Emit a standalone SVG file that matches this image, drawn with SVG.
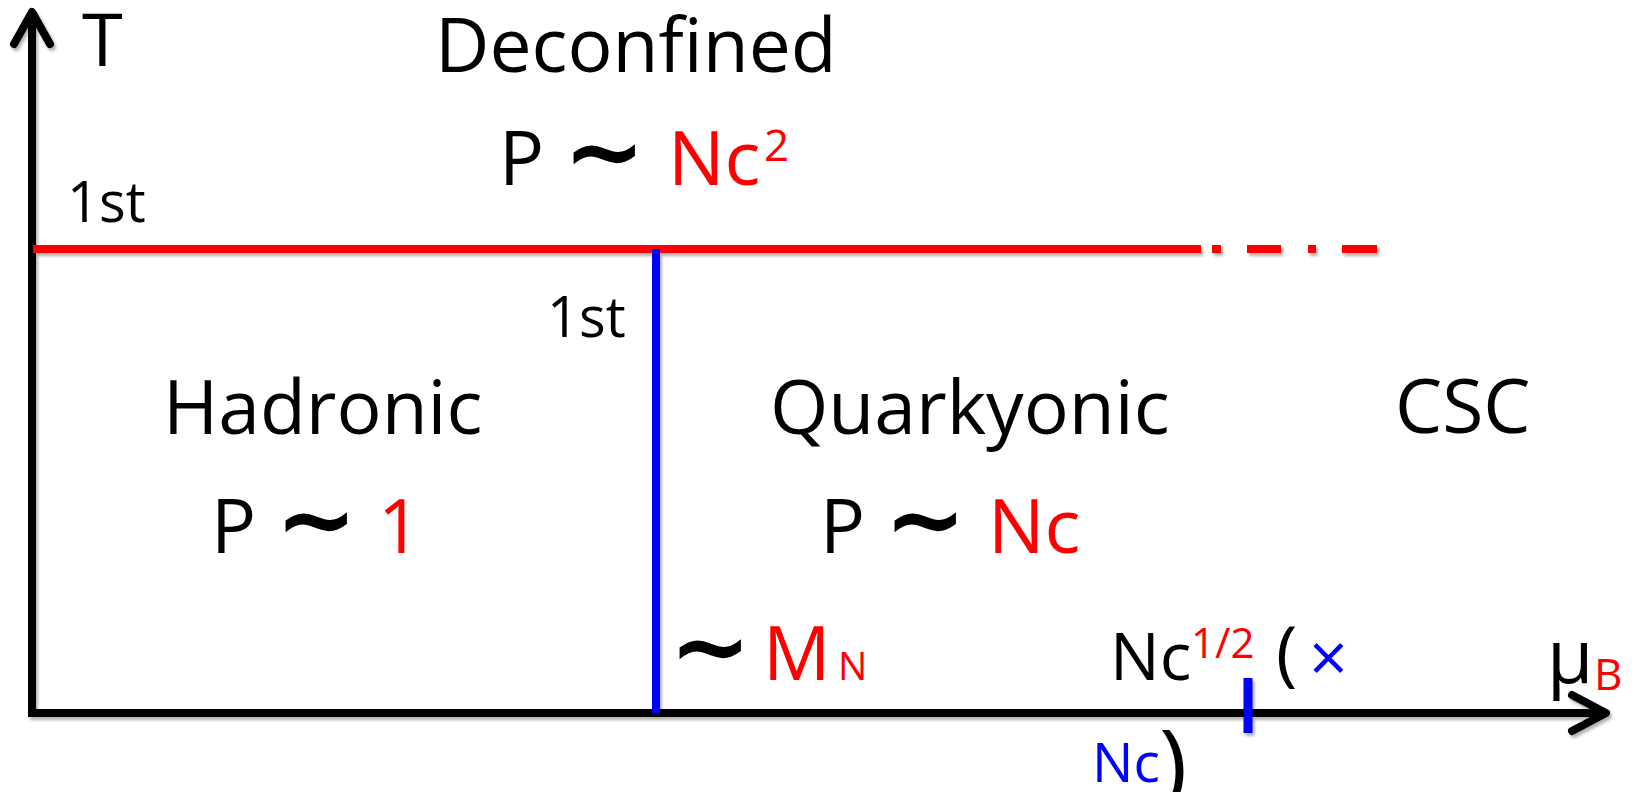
<svg xmlns="http://www.w3.org/2000/svg" width="1642" height="792" viewBox="0 0 1642 792">
<defs>
<filter id="sh" x="-5%" y="-5%" width="110%" height="110%">
<feDropShadow dx="2" dy="3" stdDeviation="1.5" flood-color="#000" flood-opacity="0.3"/>
</filter>
<style>
text{font-family:"Open Sans","Liberation Sans",sans-serif;fill:#000}
.big{font-size:75px}
.r{fill:#FF0000}
.b{fill:#0000FF}
.tl{font-family:"DejaVu Sans",sans-serif;font-size:98px;font-weight:bold}
.axis{fill:none;stroke:#000;stroke-width:8}
</style>
</defs>
<g id="connectors" filter="url(#sh)">
<path class="axis" d="M32,12 V713 H1604" stroke-linejoin="miter"/>
<path class="axis" d="M14,44 L32,12 L50,44" stroke-linecap="round" stroke-linejoin="round"/>
<path class="axis" d="M1572,695 L1606,713 L1572,731" stroke-linecap="round" stroke-linejoin="round"/>
<path d="M33,249 H1201 M1212,249 H1221 M1247,249 H1281 M1308,249 H1316 M1342,249 H1377" stroke="#FF0000" stroke-width="8" fill="none"/>
<path d="M656,249 V713" stroke="#0000FF" stroke-width="8" fill="none"/>
<path d="M1248,678 V733" stroke="#0000FF" stroke-width="9" fill="none"/>
</g>
<g id="axis-T"><text x="82" y="66" style="font-size:74px">T</text></g>
<g id="axis-muB"><text x="1547" y="683" class="big">μ</text><text x="1594" y="690" class="r" style="font-size:44px">B</text></g>
<g id="label-1st-horizontal"><text x="67" y="222" style="font-size:56px">1st</text></g>
<g id="label-1st-vertical"><text x="547" y="337" style="font-size:56px">1st</text></g>
<g id="deconfined">
<text x="435" y="72" class="big">Deconfined</text>
<text x="499" y="185" class="big">P</text>
<text x="563" y="185" class="tl">∼</text>
<text x="668" y="185" class="big r">Nc</text>
<text x="764" y="161" class="r" style="font-size:44px">2</text>
</g>
<g id="hadronic">
<text x="163" y="434" class="big">Hadronic</text>
<text x="211" y="553" class="big">P</text>
<text x="275" y="553" class="tl">∼</text>
<text x="378" y="553" class="big r">1</text>
</g>
<g id="quarkyonic">
<text x="770" y="434" class="big">Quarkyonic</text>
<text x="820" y="553" class="big">P</text>
<text x="884" y="553" class="tl">∼</text>
<text x="988" y="553" class="big r">Nc</text>
</g>
<g id="csc"><text x="1395" y="433" class="big">CSC</text></g>
<g id="label-MN">
<text x="669" y="680" class="tl">∼</text>
<text x="763" y="680" class="big r">M</text>
<text x="838" y="680" class="r" style="font-size:39px">N</text>
</g>
<g id="label-Nc-half">
<text x="1110" y="680" style="font-size:66px">Nc</text>
<text x="1191" y="658" class="r" style="font-size:42px">1/2</text>
<text x="1276" y="678" style="font-size:72px">(</text>
<text x="1309" y="682" class="b" style="font-size:68px">×</text>
<text x="1092" y="782" class="b" style="font-size:55px">Nc</text>
<text x="1159" y="798" style="font-size:96px">)</text>
</g>
</svg>
